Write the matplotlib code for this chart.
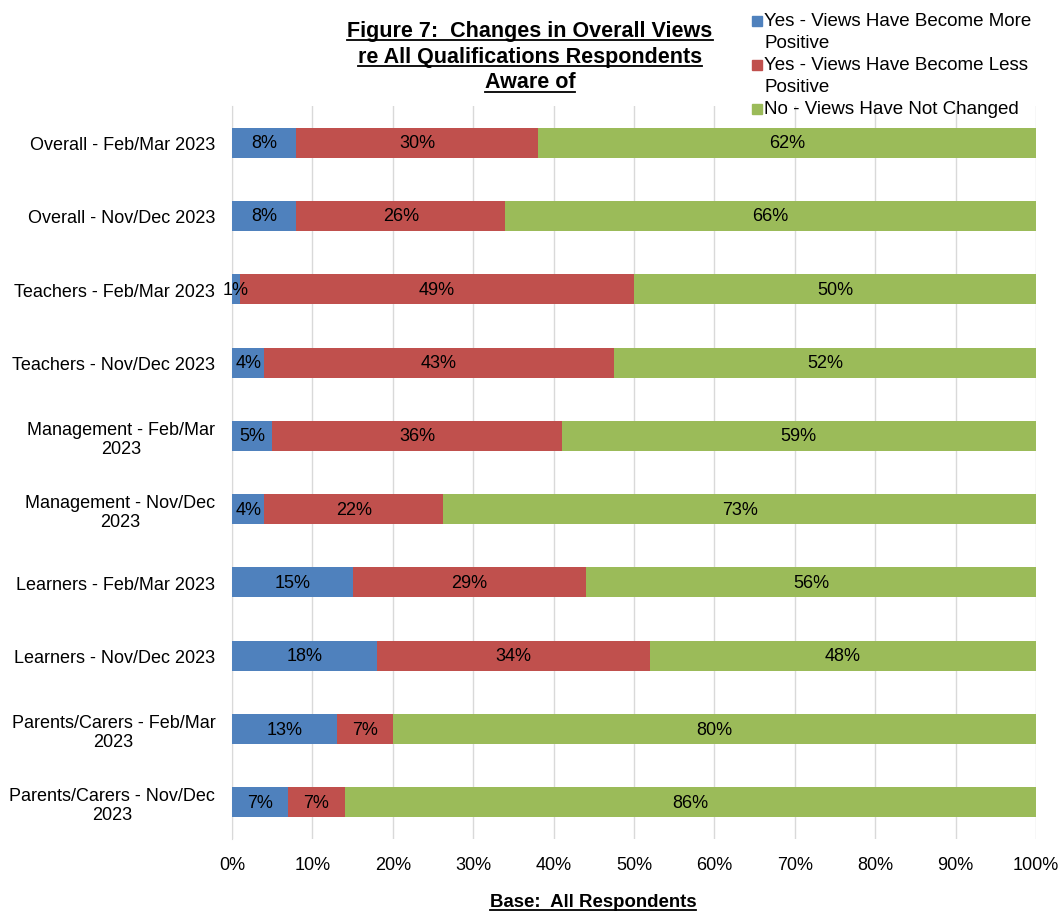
import matplotlib.pyplot as plt
import numpy as np
from matplotlib.patches import Rectangle
from matplotlib.lines import Line2D

plt.rcParams['font.family'] = ['Liberation Sans', 'DejaVu Sans']

groups = ['Overall - Feb/Mar 2023', 'Overall - Nov/Dec 2023',
          'Teachers - Feb/Mar 2023', 'Teachers - Nov/Dec 2023',
          'Management - Feb/Mar\n2023', 'Management - Nov/Dec\n2023',
          'Learners - Feb/Mar 2023', 'Learners - Nov/Dec 2023',
          'Parents/Carers - Feb/Mar\n2023', 'Parents/Carers - Nov/Dec\n2023']
more_positive = [8, 8, 1, 4, 5, 4, 15, 18, 13, 7]
less_positive = [30, 26, 49, 43, 36, 22, 29, 34, 7, 7]
not_changed = [62, 66, 50, 52, 59, 73, 56, 48, 80, 86]

series = [['Yes - Views Have Become More', 'Positive'],
          ['Yes - Views Have Become Less', 'Positive'],
          ['No - Views Have Not Changed']]
colors = ['#4F81BD', '#C0504D', '#9BBB59']
title_lines = ['Figure 7:  Changes in Overall Views',
               're All Qualifications Respondents',
               'Aware of']

vals = np.array([more_positive, less_positive, not_changed], dtype=float)
shares = vals / vals.sum(axis=0) * 100  # 100% stacked

W, H = 1061, 912
fig = plt.figure(figsize=(W / 100, H / 100), dpi=100)
ax = fig.add_axes([232 / W, 1 - 840 / H, 804 / W, 733 / H])

y = np.arange(len(groups))
left = np.zeros(len(groups))
for i in range(3):
    ax.barh(y, shares[i], left=left, height=0.41, color=colors[i], zorder=3)
    for j in range(len(groups)):
        ax.text(left[j] + shares[i][j] / 2, y[j], '%d%%' % vals[i][j],
                ha='center', va='center', fontsize=13, zorder=4)
    left += shares[i]

ax.set_ylim(len(groups) - 0.5, -0.5)
ax.set_xlim(0, 100)
ax.set_xticks(np.arange(0, 101, 10))
ax.set_xticklabels(['%d%%' % v for v in range(0, 101, 10)], fontsize=13)
ax.set_yticks(y)
ax.set_yticklabels(groups, fontsize=13)
for lab in ax.get_yticklabels():
    lab.set_multialignment('center')
    lab.set_linespacing(1.15)
ax.tick_params(length=0)
ax.tick_params(axis='y', pad=12)
ax.tick_params(axis='x', pad=12)
ax.grid(axis='x', color='#D9D9D9', linewidth=1, zorder=0)
for s in ['top', 'right', 'bottom']:
    ax.spines[s].set_visible(False)
ax.spines['left'].set_color('#D9D9D9')

# title and footer, underlined
under = []
for k, s in enumerate(title_lines):
    under.append(fig.text(530 / W, 1 - (31 + k * 26) / H, s, ha='center', va='center',
                          fontsize=15.5, fontweight='bold'))
under.append(fig.text(593 / W, 1 - 903 / H, 'Base:  All Respondents',
                      ha='center', va='center', fontsize=13.4, fontweight='bold'))

# legend
row = 0
for lines, c in zip(series, colors):
    ty = 22 + row * 22
    fig.patches.append(Rectangle((752 / W, 1 - (ty + 5) / H), 10 / W, 10 / H,
                                 transform=fig.transFigure, color=c))
    for s in lines:
        fig.text(764 / W, 1 - (22 + row * 22) / H, s, ha='left', va='center',
                 fontsize=13.5)
        row += 1

fig.canvas.draw()
r = fig.canvas.get_renderer()
for t in under:
    bb = t.get_window_extent(r)
    yl = (bb.y0 + 1) / H
    fig.add_artist(Line2D([bb.x0 / W, bb.x1 / W], [yl, yl],
                          transform=fig.transFigure, color='black', linewidth=1.3))

fig.savefig('out.png', dpi=100)
